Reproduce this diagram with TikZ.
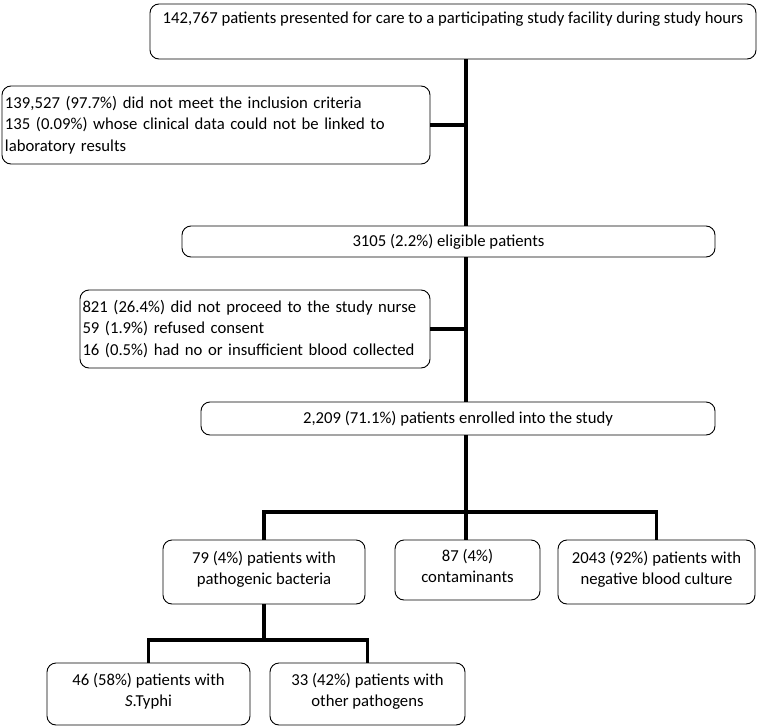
\documentclass[tikz,border=0pt]{standalone}
\usepackage{fontspec}
\setmainfont{Carlito}
\begin{document}
\begin{tikzpicture}[x=1pt,y=-1pt,
  box/.style={draw=black, line width=0.9pt, rounded corners=9pt, inner sep=0pt, align=center,
    font=\fontsize{16.7}{21.5}\selectfont},
  lbox/.style={box, align=left},
  conn/.style={line width=3.6pt, line cap=butt}]
\useasboundingbox (0,0) rectangle (758,728);
\node[box, minimum width=606pt, minimum height=55pt] (top) at (453,31.5)
  {142,767 patients presented for care to a participating study facility during study hours\\\strut};
\node[lbox, minimum width=428pt, minimum height=78pt, text width=422pt] (ex1) at (216,125)
  {139,527 (97.7\%) did not meet the inclusion criteria\\135 (0.09\%) whose clinical data could not be linked to\\laboratory results};
\node[box, minimum width=533pt, minimum height=31pt] (elig) at (448.5,241.5) {3105 (2.2\%) eligible patients};
\node[lbox, minimum width=350pt, minimum height=78pt, text width=345pt] (ex2) at (255,329)
  {821 (26.4\%) did not proceed to the study nurse\\59 (1.9\%) refused consent\\16 (0.5\%) had no or insufficient blood collected};
\node[box, minimum width=514pt, minimum height=33pt] (enr) at (458,418.5) {2,209 (71.1\%) patients enrolled into the study};
\node[box, minimum width=202pt, minimum height=64pt] (pa) at (264,572) {79 (4\%) patients with\\pathogenic bacteria\\[-13pt]};
\node[box, minimum width=145pt, minimum height=60pt] (pb) at (467.5,570) {87 (4\%)\\contaminants\\[-13pt]};
\node[box, minimum width=197pt, minimum height=64pt] (pc) at (656.5,572) {2043 (92\%) patients with\\negative blood culture\\[-13pt]};
\node[box, minimum width=203pt, minimum height=62pt] (pd) at (148.5,694) {46 (58\%) patients with\\\textit{S}.Typhi\\[-13pt]};
\node[box, minimum width=195pt, minimum height=62pt] (pe) at (367.5,694) {33 (42\%) patients with\\other pathogens\\[-13pt]};
\coordinate (t) at (466,0);
\coordinate (bar) at (466,512);
\coordinate (bar2) at (264,640);
\draw[conn] (top.south -| t) -- (elig.north -| t);
\draw[conn] (ex1.east) -- (ex1.east -| t);
\draw[conn] (elig.south -| t) -- (enr.north -| t);
\draw[conn] (ex2.east) -- (ex2.east -| t);
\draw[conn] (enr.south -| t) -- (pb.north -| t);
\draw[conn] (pa.north) |- (bar) -| (pc.north);
\draw[conn] (pa.south) -- (bar2);
\draw[conn] (pd.north) |- (bar2) -| (pe.north);
\end{tikzpicture}
\end{document}
